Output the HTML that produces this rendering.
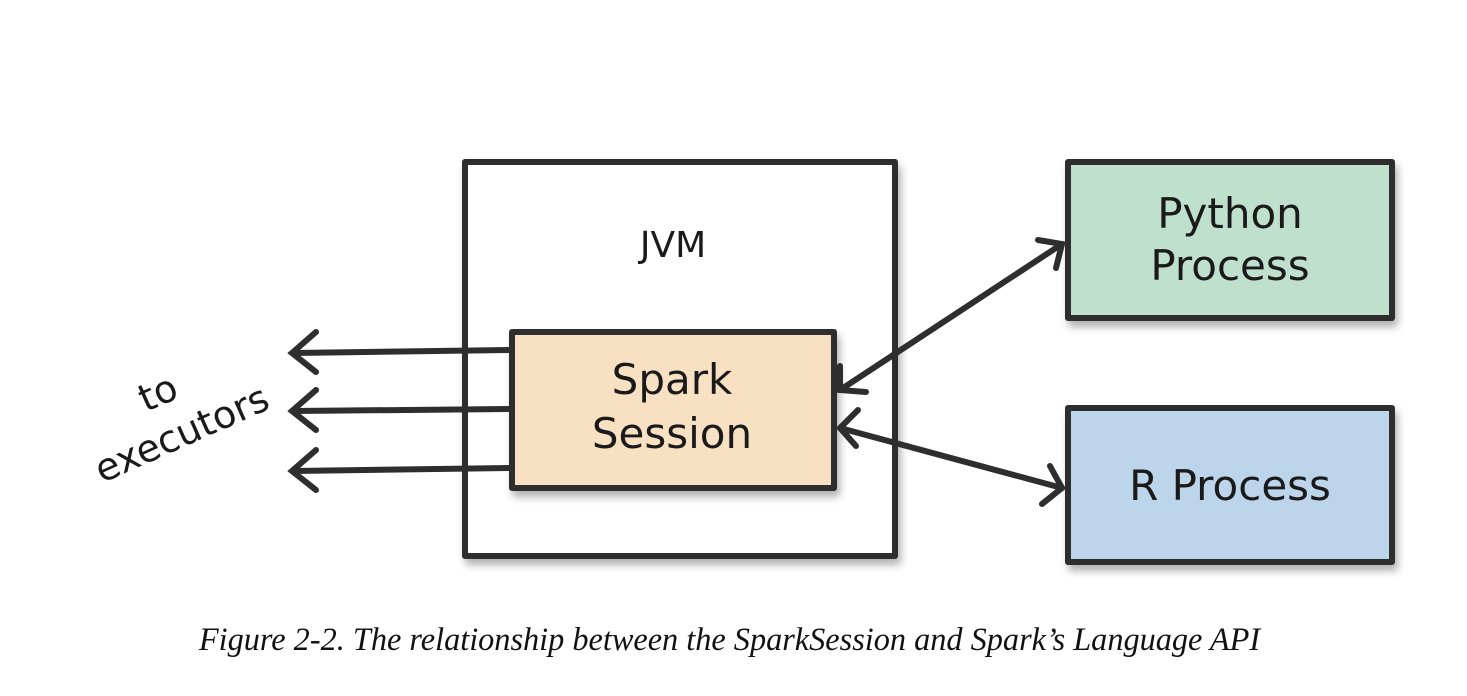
<!DOCTYPE html>
<html><head><style>
body{margin:0;background:#fff;width:1467px;height:696px;overflow:hidden;position:relative}
svg{position:absolute;left:0;top:0}
.cap{position:absolute;left:197px;width:1065px;top:621px;text-align:center;font:italic 32.3px "Liberation Serif",serif;color:#111;white-space:nowrap}
</style></head><body>
<svg width="1467" height="696" viewBox="0 0 1467 696">
<defs>
<filter id="sh" x="-10%" y="-10%" width="130%" height="130%"><feDropShadow dx="3" dy="6" stdDeviation="4" flood-color="#000" flood-opacity="0.3"/></filter>
</defs>
<g stroke="#2e2e2e" stroke-width="6" stroke-linejoin="round">
<rect x="465" y="162" width="430" height="394" fill="#fff" filter="url(#sh)"/>
<rect x="512" y="332" width="322" height="156" fill="#f8e1c3" filter="url(#sh)"/>
<rect x="1068" y="162" width="324" height="156" fill="#bfe0cc" filter="url(#sh)"/>
<rect x="1068" y="408" width="324" height="154" fill="#bcd5ea" filter="url(#sh)"/>
</g>
<g stroke="#2e2e2e" stroke-width="6" fill="none" stroke-linecap="round">
<line x1="510" y1="350" x2="294" y2="353"/>
<line x1="510" y1="409" x2="294" y2="411"/>
<line x1="510" y1="468" x2="294" y2="471"/>
<polyline points="316,332 292,353 316,372"/>
<polyline points="316,390 292,411 316,430"/>
<polyline points="316,450 292,471 316,490"/>
<line x1="840" y1="390" x2="1062" y2="244"/>
<polyline points="840,366 840,390 866,392"/>
<polyline points="1038,240 1062,244 1056,268"/>
<line x1="840" y1="428" x2="1062" y2="488"/>
<polyline points="858,410 840,428 856,446"/>
<polyline points="1050,466 1062,488 1042,504"/>
</g>
<g font-family="DejaVu Sans, sans-serif" fill="#1a1a1a" text-anchor="middle">
<text x="673" y="257" font-size="36">JVM</text>
<text x="672" y="394" font-size="42">Spark</text>
<text x="672" y="448" font-size="42">Session</text>
<text x="1230" y="228" font-size="42">Python</text>
<text x="1230" y="280" font-size="42">Process</text>
<text x="1230" y="500" font-size="42">R Process</text>
<g transform="rotate(-24 180 430)">
<text x="175" y="400" font-size="38">to</text>
<text x="180" y="447" font-size="38">executors</text>
</g>
</g>
</svg>
<div class="cap">Figure 2-2. The relationship between the SparkSession and Spark’s Language API</div>
</body></html>
